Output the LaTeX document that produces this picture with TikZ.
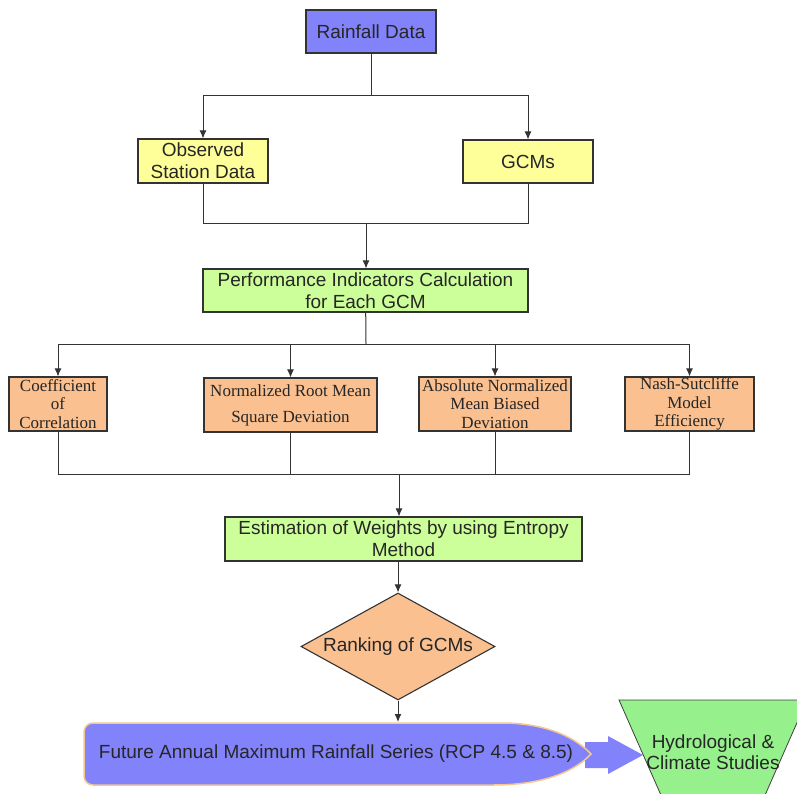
\documentclass[tikz,border=0pt]{standalone}
\usepackage{fontspec}
\setmainfont{Liberation Sans}
\newfontfamily\timesfont{Liberation Serif}
\usetikzlibrary{arrows.meta}
\usetikzlibrary{shapes.geometric}
\tikzset{>={Latex[length=8pt,width=7pt]}}
\definecolor{mypurple}{HTML}{8282FA}
\definecolor{myyellow}{HTML}{FFFF99}
\definecolor{mygreen}{HTML}{CCFF99}
\definecolor{myorange}{HTML}{FAC090}
\definecolor{mylime}{HTML}{96F08C}
\definecolor{myglow}{HTML}{F5C890}
\colorlet{myline}{black!80}
\tikzset{
  box/.style={draw=myline, line width=1.1pt, inner sep=0pt, align=center,
    text=black!85, font=\fontsize{19}{22}\selectfont},
  indbox/.style={box, fill=myorange, minimum height=54,
    font=\timesfont\fontsize{17}{18.5}\selectfont},
  link/.style={myline, line width=1pt},
}

\begin{document}
\begin{tikzpicture}[x=1pt,y=-1pt]
  \useasboundingbox (0,0) rectangle (797,794);

    % INPUT
    \node[box, fill=mypurple, minimum width=130, minimum height=43] (rain) at (371,31.5) {Rainfall Data};
    \node[box, fill=myyellow, minimum width=130, minimum height=44] (obs) at (203,161) {Observed\\Station Data};
    \node[box, fill=myyellow, minimum width=130, minimum height=43] (gcm) at (528,161.5) {GCMs};
    \node[box, fill=mygreen, minimum width=325, minimum height=43] (perf) at (365.5,290.5) {Performance Indicators Calculation\\for Each GCM};

    % INDICATORS
    \node[indbox, minimum width=98] (coef) at (58,404) {Coefficient\\of\\Correlation};
    \node[indbox, minimum width=173, font=\timesfont\fontsize{17}{26}\selectfont] (nrmsd) at (290.5,405) {Normalized Root Mean\\Square Deviation};
    \node[indbox, minimum width=152] (anmbd) at (495,404) {Absolute Normalized\\Mean Biased\\Deviation};
    \node[indbox, minimum width=129] (nse) at (689.5,404) {Nash-Sutcliffe\\Model\\Efficiency};

    \node[box, fill=mygreen, minimum width=357, minimum height=44] (est) at (403.5,539) {Estimation of Weights by using Entropy\\Method};
    \node[box, diamond, fill=myorange, shape aspect=1.8, minimum width=194, minimum height=107] (rank) at (398,646.5) {Ranking of GCMs};

    % JUNCTIONS
    \coordinate (j1) at (371,96);
    \coordinate (j2) at (366,224);
    \coordinate (j3) at (366,344);
    \coordinate (j4) at (399,474);
    \coordinate (bantop) at (398,722);

    \draw[link] (rain) -- (j1);
    \draw[link,->] (j1) -| (obs);
    \draw[link,->] (j1) -| (gcm);
    \draw[link] (obs) |- (j2);
    \draw[link] (gcm) |- (j2);
    \draw[link,->] (j2) -- (j2 |- perf.north);

    \draw[link] (perf) -- (j3);
    \foreach \n in {coef,nrmsd,anmbd,nse}
      \draw[link,->] (j3) -| (\n);
    \foreach \n in {coef,nrmsd,anmbd,nse}
      \draw[link] (\n) |- (j4);
    \draw[link,->] (j4) -- (j4 |- est.north);
    \draw[link,->] (est.south -| rank) -- (rank);
    \draw[link,->] (rank) -- (bantop);

    % OUTPUT
    \fill[mypurple] (585,742) -- (608,742) -- (608,736) -- (643,755) -- (608,774) -- (608,768) -- (585,768) -- cycle;
    \draw[myglow, line width=1.5pt, fill=mypurple] (493,785) [rounded corners=9] -- (84,785) -- (84,723) -- (493,723) [sharp corners]
      .. controls (550,723) and (578,740) .. (591,754)
      .. controls (578,768) and (550,785) .. (493,785) -- cycle;
    \node[text=black!85, font=\fontsize{19}{22}\selectfont] (future) at (336,754) {Future Annual Maximum Rainfall Series (RCP 4.5 \& 8.5)};

    \begin{scope}
      \clip (0,0) rectangle (797,794);
      \draw[black!75, line width=0.8pt, fill=mylime] (619,700) -- (807,700) -- (762,802) -- (664,802) -- cycle;
    \end{scope}
    \node[align=center, text=black!85, font=\fontsize{19}{20.5}\selectfont] (hydro) at (713,752) {Hydrological \&\\Climate Studies};

\end{tikzpicture}
\end{document}
